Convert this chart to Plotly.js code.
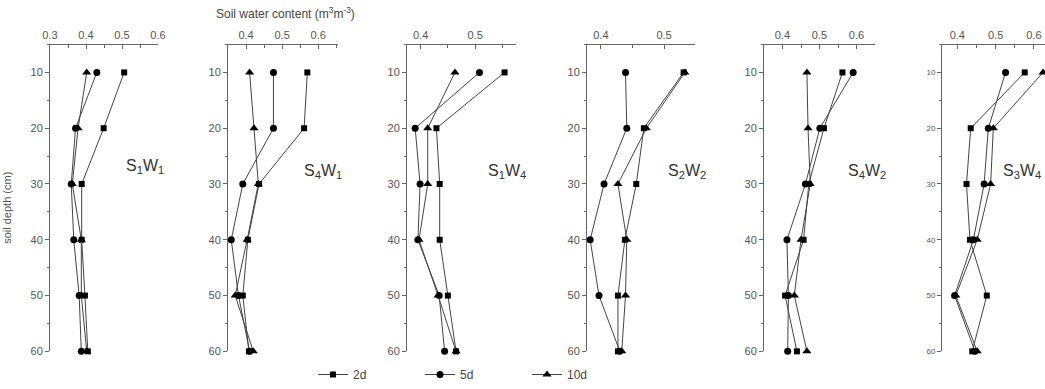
<!DOCTYPE html>
<html><head><meta charset="utf-8">
<script src="https://cdn.plot.ly/plotly-3.0.1.min.js"></script>
<style>html,body{margin:0;padding:0;background:#fff}#chart{width:1045px;height:389px}</style>
</head><body><div id="chart"></div>
<script>
// Depths (cm)
const depth = [10, 20, 30, 40, 50, 60];
// Series names
const seriesNames = ['2d', '5d', '10d'];
// Panel labels
const panelLabels = ['S<sub>1</sub>W<sub>1</sub>', 'S<sub>4</sub>W<sub>1</sub>', 'S<sub>1</sub>W<sub>4</sub>',
                     'S<sub>2</sub>W<sub>2</sub>', 'S<sub>4</sub>W<sub>2</sub>', 'S<sub>3</sub>W<sub>4</sub>'];
// Soil water content (m3 m-3), per panel and series
const s1w1_2d  = [0.506, 0.449, 0.388, 0.388, 0.397, 0.405];
const s1w1_5d  = [0.430, 0.371, 0.359, 0.366, 0.381, 0.387];
const s1w1_10d = [0.402, 0.378, 0.362, 0.387, 0.387, 0.402];
const s4w1_2d  = [0.570, 0.561, 0.436, 0.405, 0.391, 0.408];
const s4w1_5d  = [0.476, 0.476, 0.391, 0.359, 0.379, 0.410];
const s4w1_10d = [0.410, 0.422, 0.434, 0.403, 0.370, 0.420];
const s1w4_2d  = [0.554, 0.429, 0.435, 0.435, 0.450, 0.465];
const s1w4_5d  = [0.508, 0.390, 0.399, 0.395, 0.434, 0.444];
const s1w4_10d = [0.463, 0.413, 0.413, 0.397, 0.432, 0.465];
const s2w2_2d  = [0.531, 0.468, 0.456, 0.438, 0.427, 0.427];
const s2w2_5d  = [0.439, 0.441, 0.405, 0.383, 0.397, 0.430];
const s2w2_10d = [0.533, 0.472, 0.427, 0.441, 0.439, 0.433];
const s4w2_2d  = [0.562, 0.512, 0.471, 0.457, 0.407, 0.439];
const s4w2_5d  = [0.591, 0.501, 0.462, 0.412, 0.416, 0.414];
const s4w2_10d = [0.466, 0.469, 0.475, 0.450, 0.432, 0.466];
const s3w4_2d  = [0.576, 0.435, 0.424, 0.433, 0.477, 0.439];
const s3w4_5d  = [0.526, 0.481, 0.470, 0.442, 0.393, 0.446];
const s3w4_10d = [0.624, 0.494, 0.487, 0.452, 0.396, 0.452];
// x-axis tick values per panel
const xTickVals = [[0.3,0.4,0.5,0.6],[0.4,0.5,0.6],[0.4,0.5],[0.4,0.5],[0.4,0.5,0.6],[0.4,0.5,0.6]];
// y tick values
const yTickVals = [10, 20, 30, 40, 50, 60];

const panels = [
  [s1w1_2d, s1w1_5d, s1w1_10d], [s4w1_2d, s4w1_5d, s4w1_10d], [s1w4_2d, s1w4_5d, s1w4_10d],
  [s2w2_2d, s2w2_5d, s2w2_10d], [s4w2_2d, s4w2_5d, s4w2_10d], [s3w4_2d, s3w4_5d, s3w4_10d]
];

const W = 1045, H = 389;
const px = v => v / W, py = v => 1 - v / H;
const xPix = [[50,158],[228,338],[407,516],[587,695],[764,875],[942,1045]];
const xRanges = [[0.3,0.6],[0.35,0.655],[0.375,0.575],[0.378,0.549],[0.35,0.65],[0.36,0.629]];
const labelPos = [[145,168],[323,173],[507,173],[687,173],[867,173],[1022,173]];
const symbols = ['square', 'circle', 'triangle-up'];
const msize = [6, 7, 8];

const data = [];
const layout = {
  width: W, height: H, margin: {l:0, r:0, t:0, b:0},
  paper_bgcolor: '#fff', plot_bgcolor: 'rgba(0,0,0,0)',
  font: {family: 'Liberation Sans, Arial, sans-serif', color: '#555', size: 11},
  showlegend: true,
  legend: {orientation: 'h', x: px(313), y: py(364), yanchor: 'top', xanchor: 'left',
           entrywidth: 62, entrywidthmode: 'pixels', font: {size: 12, color: '#444'},
           bgcolor: 'rgba(0,0,0,0)', itemwidth: 30},
  annotations: [], shapes: []
};

panels.forEach((series, i) => {
  const n = i + 1;
  const xa = 'xaxis' + (n === 1 ? '' : n), ya = 'yaxis' + (n === 1 ? '' : n);
  series.forEach((vals, s) => {
    data.push({
      x: vals, y: depth, type: 'scatter', mode: 'lines+markers',
      xaxis: 'x' + (n === 1 ? '' : n), yaxis: 'y' + (n === 1 ? '' : n),
      name: seriesNames[s], showlegend: i === 0, cliponaxis: false,
      line: {color: '#444', width: 1},
      marker: {symbol: symbols[s], size: msize[s], color: '#000'}
    });
  });
  layout[xa] = {
    domain: [px(xPix[i][0]), px(xPix[i][1])], range: xRanges[i], side: 'top',
    anchor: 'y' + (n === 1 ? '' : n), showgrid: false, zeroline: false,
    showline: true, linecolor: '#666', linewidth: 1,
    tickvals: xTickVals[i], ticks: 'inside', ticklen: 4, tickcolor: '#666',
    minor: {dtick: 0.05, ticks: 'inside', ticklen: 3, tickcolor: '#666'},
    tickfont: {size: 11, color: '#555'}, fixedrange: true
  };
  layout[ya] = {
    domain: [py(355), py(45)], range: [60, 5], anchor: 'x' + (n === 1 ? '' : n),
    showgrid: false, zeroline: false, showline: true, linecolor: '#666', linewidth: 1,
    tickvals: yTickVals, ticks: 'outside', ticklen: 4, tickcolor: '#666',
    minor: {dtick: 5, ticks: 'outside', ticklen: 2, tickcolor: '#666'},
    tickfont: {size: i === 5 ? 8 : 11, color: '#555'}, fixedrange: true
  };
  layout.annotations.push({
    xref: 'paper', yref: 'paper', x: px(labelPos[i][0]), y: py(labelPos[i][1]),
    xanchor: 'center', yanchor: 'middle',
    text: panelLabels[i], showarrow: false, font: {size: 16, color: '#333'}
  });
});

layout.annotations.push({
  xref: 'paper', yref: 'paper', x: px(285), y: py(13), xanchor: 'center', yanchor: 'middle',
  text: 'Soil water content (m<sup>3</sup>m<sup>-3</sup>)', showarrow: false,
  font: {size: 12, color: '#444'}
});
layout.annotations.push({
  xref: 'paper', yref: 'paper', x: px(7), y: py(210), xanchor: 'center', yanchor: 'middle',
  textangle: -90, text: 'soil depth (cm)', showarrow: false, font: {size: 11, color: '#555'}
});

Plotly.newPlot('chart', data, layout, {displayModeBar: false, staticPlot: true});
</script>
</body></html>
